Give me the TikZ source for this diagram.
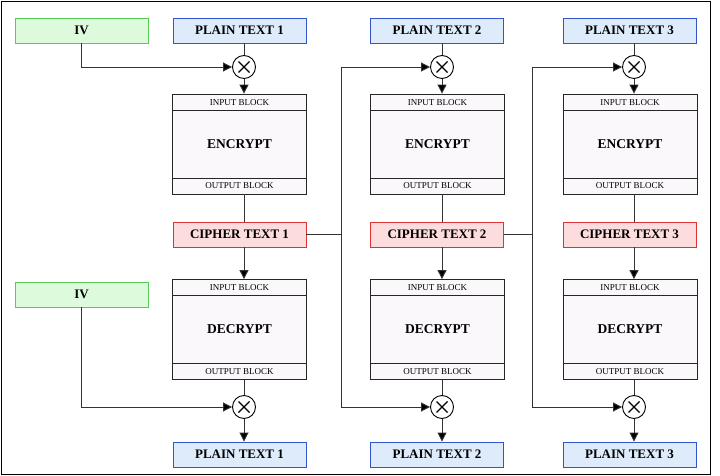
\documentclass[tikz,border=0pt]{standalone}
\usepackage{fontspec}
\setmainfont{Liberation Serif}
\usetikzlibrary{arrows.meta,calc}
\definecolor{ivfill}{HTML}{DDFADD}
\definecolor{ivdraw}{HTML}{55CC55}
\definecolor{ptfill}{HTML}{DDEBFB}
\definecolor{ptdraw}{HTML}{3355CC}
\definecolor{ctfill}{HTML}{FCDCDC}
\definecolor{ctdraw}{HTML}{DD3333}
\definecolor{blkfill}{HTML}{FBF8FB}
\definecolor{linec}{HTML}{333333}
\tikzset{
  lbl/.style={draw, line width=0.9pt, minimum width=133pt, minimum height=25pt, inner sep=0pt,
    font=\fontsize{13}{13}\selectfont\bfseries},
  ivbox/.style={lbl, fill=ivfill, draw=ivdraw},
  ptbox/.style={lbl, fill=ptfill, draw=ptdraw},
  ctbox/.style={lbl, fill=ctfill, draw=ctdraw},
  blk/.style={draw=black!85, fill=blkfill, line width=0.8pt, minimum width=134pt, minimum height=100pt,
    inner sep=0pt, font=\fontsize{13.5}{13.5}\selectfont\bfseries},
  strip/.style={font=\fontsize{9}{9}\selectfont, inner sep=0pt},
  xor/.style={circle, draw=black, fill=white, line width=0.9pt, minimum size=23pt, inner sep=0pt,
    path picture={\draw[line width=1.1pt] (path picture bounding box.center) +(-5.5,-5.5) -- +(5.5,5.5)
      +(-5.5,5.5) -- +(5.5,-5.5);}},
  conn/.style={draw=linec, line width=0.9pt},
  arr/.style={conn, -{Triangle[length=9pt,width=9pt,fill=black]}},
}
\newcommand{\cbcblock}[4]{% name, x, y, label
  \node[blk] (#1) at (#2,#3) {#4};
  \draw[draw=black!85, line width=0.8pt] ($(#1.north west)+(0,16.5)$) -- ($(#1.north east)+(0,16.5)$);
  \draw[draw=black!85, line width=0.8pt] ($(#1.south west)+(0,-16.5)$) -- ($(#1.south east)+(0,-16.5)$);
  \node[strip] (#1in) at ($(#1.north)+(0,8.5)$) {INPUT BLOCK};
  \node[strip] (#1out) at ($(#1.south)+(0,-8.5)$) {OUTPUT BLOCK};
}
\begin{document}
\begin{tikzpicture}[x=1pt,y=-1pt]
\useasboundingbox (0,0) rectangle (720,476);
\fill[white] (0,0) rectangle (720,476);
\draw[line width=1pt] (1.5,1.5) rectangle (710,474);

% IV boxes
\node[ivbox] (iv1) at (81.5,30.5) {IV};
\node[ivbox] (iv2) at (81.5,294.5) {IV};

% column boxes
\node[ptbox] (pt1) at (239.5,30.5) {PLAIN TEXT 1};
\node[ptbox] (pt2) at (437,30.5) {PLAIN TEXT 2};
\node[ptbox] (pt3) at (629.5,30.5) {PLAIN TEXT 3};

\node[ctbox] (ct1) at (239.5,234.5) {CIPHER TEXT 1};
\node[ctbox] (ct2) at (437,234.5) {CIPHER TEXT 2};
\node[ctbox] (ct3) at (629.5,234.5) {CIPHER TEXT 3};

\node[ptbox] (po1) at (239.5,454.5) {PLAIN TEXT 1};
\node[ptbox] (po2) at (437,454.5) {PLAIN TEXT 2};
\node[ptbox] (po3) at (629.5,454.5) {PLAIN TEXT 3};

\cbcblock{enc1}{239.5}{144}{ENCRYPT}
\cbcblock{enc2}{437.5}{144}{ENCRYPT}
\cbcblock{enc3}{630}{144}{ENCRYPT}
\cbcblock{dec1}{239.5}{329.5}{DECRYPT}
\cbcblock{dec2}{437.5}{329.5}{DECRYPT}
\cbcblock{dec3}{630}{329.5}{DECRYPT}

% xor nodes
\node[xor] (xe1) at (244,67) {};
\node[xor] (xe2) at (442,67) {};
\node[xor] (xe3) at (634,67) {};
\node[xor] (xd1) at (244,407) {};
\node[xor] (xd2) at (442,407) {};
\node[xor] (xd3) at (634,407) {};

% chain coordinates
\coordinate (v2t) at (341,67);
\coordinate (v2b) at (341,407);
\coordinate (v3t) at (532,67);
\coordinate (v3b) at (532,407);

% per-column connectors
\foreach \i in {1,2,3}{
  \draw[conn] (xe\i |- pt\i.south) -- (xe\i.north);
  \draw[arr] (xe\i.south) -- (xe\i |- enc\i.north);
  \draw[conn] (xe\i |- enc\i.south) -- (xe\i |- ct\i.north);
  \draw[arr] (xe\i |- ct\i.south) -- (xe\i |- dec\i.north);
  \draw[conn] (xd\i |- dec\i.south) -- (xd\i.north);
  \draw[arr] (xd\i.south) -- (xd\i |- po\i.north);
}

% IV connectors
\draw[arr] (iv1.south) |- (xe1.west);
\draw[arr] (iv2.south) |- (xd1.west);

% chaining
\draw[conn] (ct1.east) -- (ct1.east -| v2t);
\draw[arr] (v2t |- ct1.east) -- (v2t) -- (xe2.west);
\draw[arr] (v2t |- ct1.east) -- (v2b) -- (xd2.west);
\draw[conn] (ct2.east) -- (ct2.east -| v3t);
\draw[arr] (v3t |- ct2.east) -- (v3t) -- (xe3.west);
\draw[arr] (v3t |- ct2.east) -- (v3b) -- (xd3.west);
\end{tikzpicture}
\end{document}
